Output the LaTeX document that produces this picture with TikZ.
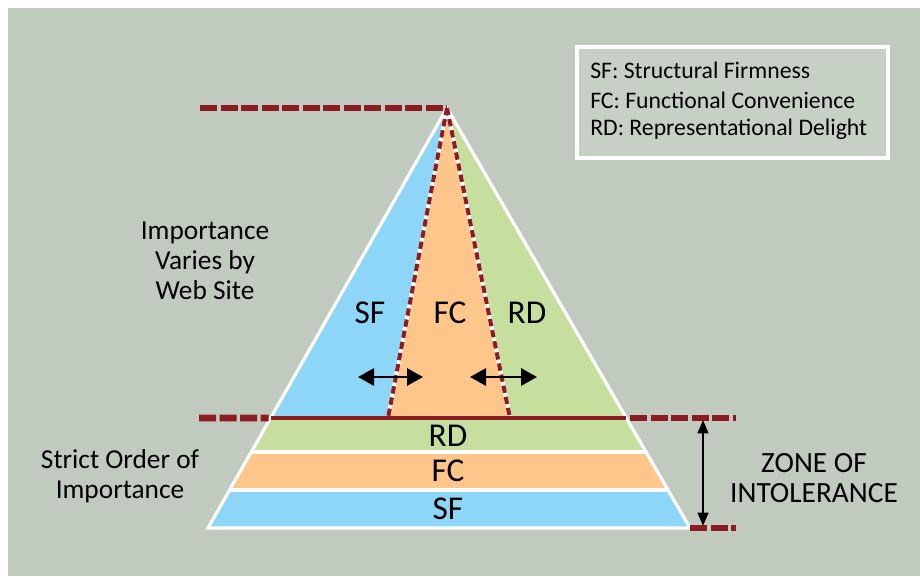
\documentclass[tikz,border=0pt]{standalone}
\usepackage{fontspec}
\setmainfont{Carlito}
\usetikzlibrary{arrows.meta,calc}
\definecolor{panel}{HTML}{C0CABE}
\definecolor{legendfill}{HTML}{C7D0C5}
\definecolor{sfblue}{HTML}{8DD6F7}
\definecolor{fcorange}{HTML}{FFC68B}
\definecolor{rdgreen}{HTML}{C6DF9F}
\definecolor{brickred}{HTML}{8C1B22}
\begin{document}
\begin{tikzpicture}[x=0.75pt,y=-0.75pt,
  limitline/.style={brickred,line width=5.2pt,dash pattern=on 12.8pt off 2.6pt},
  splitline/.style={brickred,line width=3pt,dash pattern=on 5.5pt off 3pt},
  bandsep/.style={white,line width=2.4pt},
  twoway/.style={black,line width=1.5pt,{Triangle[length=12pt,width=13pt]}-{Triangle[length=12pt,width=13pt]}},
  zonearrow/.style={black,line width=1.5pt,{Triangle[length=10pt,width=8pt]}-{Triangle[length=10pt,width=8pt]}},
  sidetext/.style={align=center,font=\fontsize{20.5}{22.5}\selectfont,inner sep=0pt},
  partlabel/.style={font=\fontsize{25}{28}\selectfont,inner sep=0pt},
  keytext/.style={anchor=west,font=\fontsize{17.8}{20}\selectfont,inner sep=0pt}]
\useasboundingbox (0,0) rectangle (920,576);
\fill[white] (0,0) rectangle (920,576);
\fill[panel] (8,8) rectangle (920,576);

% pyramid corners
\coordinate (A) at (447,108);
\coordinate (BL) at (208,528);
\coordinate (BR) at (690,528);
% base of the upper triangle and the band boundaries
\coordinate (L1) at ($(A)!0.738!(BL)$);
\coordinate (R1) at ($(A)!0.738!(BR)$);
\coordinate (L2) at ($(A)!0.819!(BL)$);
\coordinate (R2) at ($(A)!0.819!(BR)$);
\coordinate (L3) at ($(A)!0.9095!(BL)$);
\coordinate (R3) at ($(A)!0.9095!(BR)$);
\coordinate (S1) at (388,418);
\coordinate (S2) at (510,418);

% upper triangle, split into three variable parts
\fill[sfblue] (A) -- (L1) -- (S1) -- cycle;
\fill[fcorange] (A) -- (S1) -- (S2) -- cycle;
\fill[rdgreen] (A) -- (S2) -- (R1) -- cycle;
% lower bands in fixed order
\fill[rdgreen] (L1) -- (R1) -- (R2) -- (L2) -- cycle;
\fill[fcorange] (L2) -- (R2) -- (R3) -- (L3) -- cycle;
\fill[sfblue] (L3) -- (R3) -- (BR) -- (BL) -- cycle;
\draw[bandsep] (L2) -- (R2);
\draw[bandsep] (L3) -- (R3);
\draw[white,line width=2.4pt,line join=miter] (A) -- (BL) -- (BR) -- cycle;

% movable boundaries between the parts
\draw[white,line width=3pt] (A) -- (S1);
\draw[white,line width=3pt] (A) -- (S2);
\draw[splitline] (A) -- (S1);
\draw[splitline] (A) -- (S2);

% base line of the triangle and the limit marks
\draw[brickred,line width=3.6pt] (L1) -- (R1);
\coordinate (TopEnd) at (200,108);
\coordinate (LeftEnd) at (199,418);
\coordinate (RightStart) at (630,418);
\coordinate (RightEnd) at (736,418);
\coordinate (BotEnd) at (736,528);
\draw[limitline] (TopEnd) -- (A);
\draw[limitline] (LeftEnd) -- ($(L1)+(-2,0)$);
\draw[limitline] (RightStart) -- (RightEnd);
\draw[limitline] (BR) -- (BotEnd);

% shift arrows
\coordinate (la1) at (358,377);
\coordinate (la2) at (423,377);
\coordinate (ra1) at (470,377);
\coordinate (ra2) at (537,377);
\draw[twoway] (la1) -- (la2);
\draw[twoway] (ra1) -- (ra2);
\coordinate (za1) at (703,420);
\coordinate (za2) at (703,526);
\draw[zonearrow] (za1) -- (za2);

% part labels
\node[partlabel] (tSF) at (370,313) {SF};
\node[partlabel] (tFC) at (450,313) {FC};
\node[partlabel] (tRD) at (527,313) {RD};
\node[partlabel] (bRD) at (448,436) {RD};
\node[partlabel] (bFC) at (448,471) {FC};
\node[partlabel] (bSF) at (448,509) {SF};

% side captions
\node[sidetext] (vary) at (205,261) {Importance\\Varies by\\Web Site};
\node[sidetext] (strict) at (120,476) {Strict Order of\\Importance};
\node[sidetext,font=\fontsize{22}{22.5}\selectfont] (zone) at (814,478) {ZONE OF\\INTOLERANCE};

% key
\draw[white,line width=2.4pt,fill=legendfill] (577,47) rectangle (888,158);
\node[keytext] (k1) at (590,70) {SF: Structural Firmness};
\node[keytext] (k2) at (590,100) {FC: Functional Convenience};
\node[keytext] (k3) at (590,129) {RD: Representational Delight};
\end{tikzpicture}
\end{document}
